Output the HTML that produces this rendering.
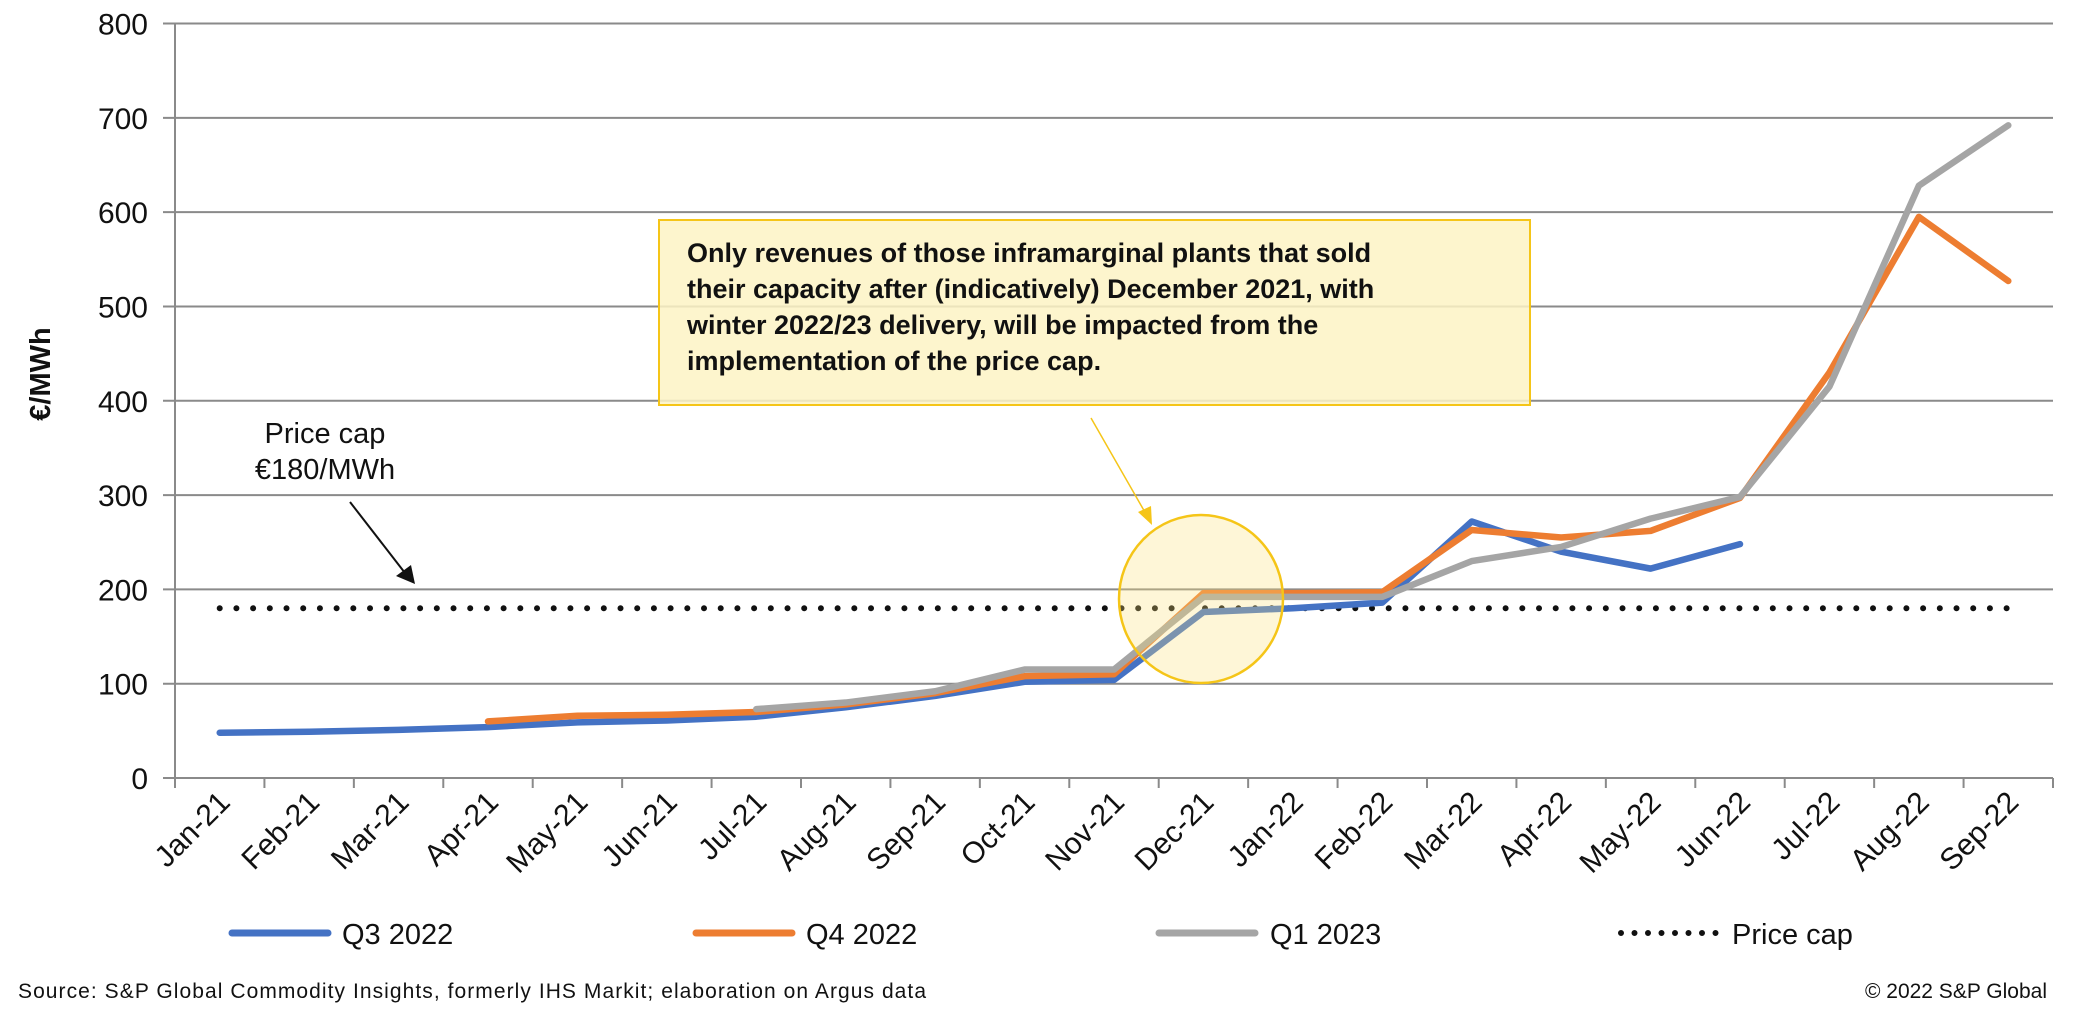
<!DOCTYPE html>
<html><head><meta charset="utf-8"><style>
body{margin:0;background:#fff;}
svg{display:block;font-family:"Liberation Sans",Arial,sans-serif;}
</style></head><body>
<svg id="chart" width="2078" height="1022" viewBox="0 0 2078 1022">
<g id="grid"></g>
<g id="yticks"></g>
<g id="xticks"></g>
<text x="50" y="374" transform="rotate(-90 50 374)" text-anchor="middle" font-size="29" font-weight="bold" fill="#111">€/MWh</text>
<g id="series"></g>
<rect x="659" y="220" width="871" height="185" fill="#fdf3c4" fill-opacity="0.85" stroke="#f5c518" stroke-width="2"/>
<g font-size="27" font-weight="bold" fill="#111">
<text x="687" y="262">Only revenues of those inframarginal plants that sold</text>
<text x="687" y="298">their capacity after (indicatively) December 2021, with</text>
<text x="687" y="334">winter 2022/23 delivery, will be impacted from the</text>
<text x="687" y="370">implementation of the price cap.</text>
</g>
<ellipse cx="1201" cy="599" rx="82" ry="84" fill="#fbe27a" fill-opacity="0.3" stroke="#f5c518" stroke-width="2.5"/>
<line x1="1091" y1="418" x2="1146" y2="514" stroke="#f5c518" stroke-width="1.5"/>
<polygon points="1152,525 1138,512 1151,506" fill="#f5c518"/>
<text x="325" y="443" text-anchor="middle" font-size="29" fill="#111">Price cap</text>
<text x="325" y="479" text-anchor="middle" font-size="29" fill="#111">€180/MWh</text>
<line x1="350" y1="502" x2="405" y2="573" stroke="#111" stroke-width="2"/>
<polygon points="415,584 396,576 411,565" fill="#111"/>
<g>
<line x1="232" y1="933" x2="328" y2="933" stroke="#4472C4" stroke-width="7" stroke-linecap="round"/>
<text x="342" y="944" font-size="29" fill="#111">Q3 2022</text>
<line x1="696" y1="933" x2="792" y2="933" stroke="#ED7D31" stroke-width="7" stroke-linecap="round"/>
<text x="806" y="944" font-size="29" fill="#111">Q4 2022</text>
<line x1="1159" y1="933" x2="1255" y2="933" stroke="#A5A5A5" stroke-width="7" stroke-linecap="round"/>
<text x="1270" y="944" font-size="29" fill="#111">Q1 2023</text>
<line x1="1621" y1="933" x2="1716" y2="933" stroke="#111" stroke-width="6" stroke-linecap="round" stroke-dasharray="0 13.5"/>
<text x="1732" y="944" font-size="29" fill="#111">Price cap</text>
</g>
<text x="18" y="998" font-size="21" fill="#111" textLength="908">Source: S&amp;P Global Commodity Insights, formerly IHS Markit; elaboration on Argus data</text>
<text x="2047" y="998" text-anchor="end" font-size="21" fill="#111">© 2022 S&amp;P Global</text>
</svg>
<script>
const categories=["Jan-21","Feb-21","Mar-21","Apr-21","May-21","Jun-21","Jul-21","Aug-21","Sep-21","Oct-21","Nov-21","Dec-21","Jan-22","Feb-22","Mar-22","Apr-22","May-22","Jun-22","Jul-22","Aug-22","Sep-22"];
const yTicks=[0,100,200,300,400,500,600,700,800];
const q3=[48,49,51,54,59,61,65,75,87,102,104,176,180,186,272,240,222,248,null,null,null];
const q4=[null,null,null,60,66,67,70,78,90,108,110,196,196,197,263,255,262,297,430,595,527];
const q1=[null,null,null,null,null,null,73,80,92,115,115,192,192,192,230,245,275,298,415,628,692];
const priceCap=180;

const NS="http://www.w3.org/2000/svg";
const L=175,R=2053,T=23.5,B=778,YMAX=800;
const step=(R-L)/categories.length;
function xs(i){return L+step*(i+0.5);}
function ys(v){return B-(v/YMAX)*(B-T);}
function mk(tag,attrs,parent){const e=document.createElementNS(NS,tag);for(const k in attrs)e.setAttribute(k,attrs[k]);parent.appendChild(e);return e;}
const grid=document.getElementById('grid'),yt=document.getElementById('yticks'),xt=document.getElementById('xticks'),sg=document.getElementById('series');
yTicks.forEach(v=>{
  const y=ys(v);
  const l=mk('line',{x1:L-12,x2:R,y1:y,y2:y,stroke:'#8a8a8a','stroke-width':2},grid);
  
  
  const t=mk('text',{x:148,y:y+11,'text-anchor':'end','font-size':30,fill:'#111'},yt);
  t.textContent=v;
  
  
});
const ax=mk('line',{x1:L,x2:L,y1:T,y2:B,stroke:'#8a8a8a','stroke-width':2},grid);


for(let i=0;i<=categories.length;i++){
  const x=L+step*i;
  const tk=mk('line',{x1:x,x2:x,y1:B,y2:B+10,stroke:'#8a8a8a','stroke-width':2},xt);
  
  
}
categories.forEach((c,i)=>{
  const x=xs(i)+12,y=804;
  const t=mk('text',{x:x,y:y,'text-anchor':'end','font-size':30,fill:'#111',transform:`rotate(-45 ${x} ${y})`},xt);
  t.textContent=c;
  
  
});
const pc=mk('line',{x1:xs(0),x2:xs(categories.length-1),y1:ys(priceCap),y2:ys(priceCap),stroke:'#111','stroke-width':6,'stroke-linecap':'round','stroke-dasharray':'0 16.7'},sg);


function drawSeries(arr,color,name){
  let d='';let started=false;
  arr.forEach((v,i)=>{if(v==null)return;d+=(started?'L':'M')+xs(i)+','+ys(v)+' ';started=true;});
  const p=mk('path',{d:d,fill:'none',stroke:color,'stroke-width':6.5,'stroke-linejoin':'round','stroke-linecap':'round'},sg);
  
  
}
drawSeries(q3,'#4472C4','series-q3-2022');
drawSeries(q4,'#ED7D31','series-q4-2022');
drawSeries(q1,'#A5A5A5','series-q1-2023');
</script>
</body></html>
